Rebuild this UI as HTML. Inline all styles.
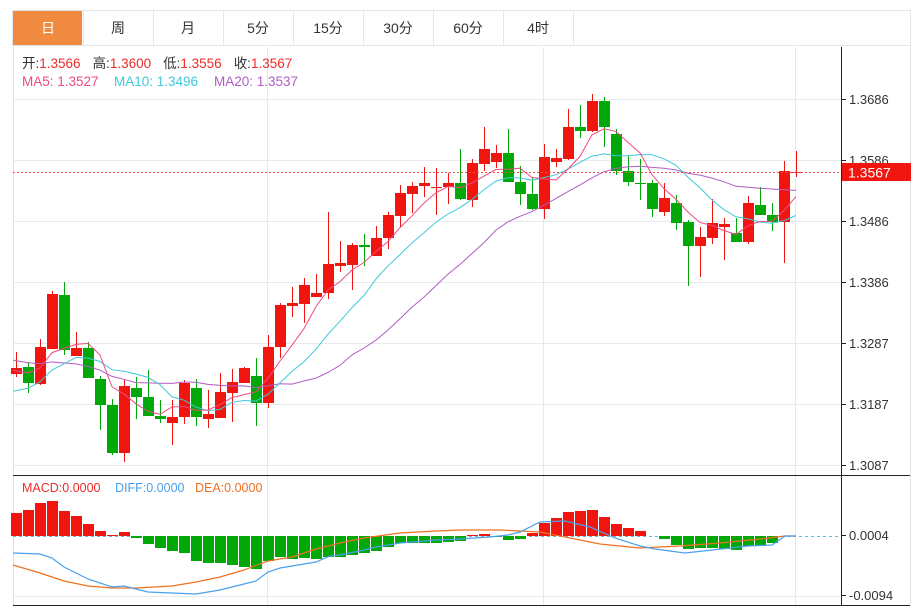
<!DOCTYPE html>
<html><head><meta charset="utf-8"><style>
html,body{margin:0;padding:0;background:#fff;width:921px;height:606px;overflow:hidden}
svg{display:block;font-family:"Liberation Sans","Noto Sans CJK SC",sans-serif}
</style></head><body>
<svg id="s" width="921" height="606" xmlns="http://www.w3.org/2000/svg"></svg>
<script>
var C=[[368,374,352,377,1],[367,383,362,393,0],[347,384,339,385,1],[294,349,291,349,1],[295,350,282,355,0],[348,356,332,356,1],[348,378,342,378,0],[379,405,376,430,0],[405,453,399,455,0],[386,453,380,462,1],[388,397,377,419,0],[397,416,370,416,0],[416,419,400,423,0],[417,423,400,445,1],[383,417,380,424,1],[388,417,379,426,0],[414,419,390,428,1],[392,418,373,418,1],[382,393,369,422,1],[368,383,367,383,1],[376,403,358,426,0],[347,403,335,408,1],[305,347,303,358,1],[303,306,287,317,1],[285,304,278,323,1],[293,297,274,297,1],[264,293,212,299,1],[263,266,241,272,1],[245,265,243,290,1],[245,247,234,266,0],[238,256,226,256,1],[215,238,212,249,1],[193,216,185,227,1],[186,194,182,213,1],[183,186,167,197,1],[187,188,168,215,1],[183,187,173,204,1],[183,199,149,200,0],[163,200,159,207,1],[149,164,127,171,1],[153,162,145,168,1],[153,182,129,182,0],[182,194,166,205,0],[194,209,178,210,0],[157,209,144,219,1],[158,162,149,167,1],[127,159,109,160,1],[127,131,105,138,0],[101,131,94,132,1],[101,127,97,147,0],[134,171,129,175,0],[171,182,155,186,0],[183,184,159,200,0],[183,209,180,217,0],[198,212,183,216,1],[203,223,195,230,0],[222,246,220,286,0],[237,246,227,277,1],[223,238,199,244,1],[224,227,218,260,1],[233,242,218,242,0],[203,242,196,244,1],[205,215,187,215,0],[215,222,203,231,0],[171,222,161,263,1],[172,173,151,177,1]];
var M=[513,510,503,501,511,516,524,531,535,532,538,544,548,551,553,561,563,563,565,567,569,561,557,559,558,559,557,557,555,553,551,547,543,543,543,543,542,541,535,534,537,540,539,533,523,518,512,511,510,517,524,528,531,536,539,545,549,548,548,549,550,546,546,543,536,536];
var DIF=[[13,553],[40,554],[52,558],[64,567],[88,579],[112,587],[124,586],[148,592],[172,593],[196,594],[220,590],[244,584],[256,581],[268,572],[280,568],[316,562],[330,556],[340,555],[364,550],[376,547],[400,543],[436,540],[460,539],[490,537],[508,535],[520,532],[540,522],[565,521],[590,527],[615,538],[640,546],[655,549],[685,553],[712,550],[748,546],[772,545],[785,536],[796,536]];
var DEA=[[13,565],[40,573],[64,581],[88,586],[112,588],[136,588],[172,586],[196,582],[220,577],[244,570],[268,561],[292,557],[316,549],[340,543],[364,538],[400,533],[436,531],[460,530],[500,530],[540,532],[560,536],[600,544],[640,548],[680,546],[720,543],[760,539],[785,536],[796,536]];
var h='';
function L(x1,y1,x2,y2,c,w,d){h+='<line x1="'+x1+'" y1="'+y1+'" x2="'+x2+'" y2="'+y2+'" stroke="'+c+'" stroke-width="'+(w||1)+'"'+(d?' stroke-dasharray="'+d+'"':'')+'/>';}
function T(x,y,t,c,s,a){h+='<text x="'+x+'" y="'+y+'" fill="'+c+'" font-size="'+(s||12)+'"'+(a?' text-anchor="'+a+'"':'')+'>'+t+'</text>';}
h+='<rect x="12.5" y="10.5" width="898" height="35" fill="#fff" stroke="#e3e6ea"/>';
var tabs=['日','周','月','5分','15分','30分','60分','4时'];
for(var i=0;i<8;i++){var x=13+i*70;if(i==0)h+='<rect x="13" y="11" width="69" height="34" fill="#f08a40"/>';else L(x+.5,11,x+.5,45,'#e3e6ea');T(x+35,33,tabs[i],i==0?'#fff':'#333',14,'middle');}
L(x+70.5,11,x+70.5,45,'#e3e6ea');
L(13.5,46,13.5,606,'#dde2e8');L(910.5,46,910.5,606,'#dde2e8');
[99.5,160.5,221.5,282.5,343.5,404.5,465.5].forEach(function(y){L(13,y,841,y,'#e6eaef');});
[267.5,543.5,795.5].forEach(function(x){L(x,47,x,605,'#e6eaef');});
L(13,596.5,841,596.5,'#e6eaef');
L(841.5,47,841.5,605,'#222');
L(13,475.5,910,475.5,'#222');L(13,605.5,910,605.5,'#222');
var lab=['1.3686','1.3586','1.3486','1.3386','1.3287','1.3187','1.3087'];
lab.forEach(function(t,i){var y=99.5+i*61;L(841,y,846,y,'#222');if(i!=1)T(849,y+4.5,t,'#333',13);});
T(849,165,'1.3586','#333',13);
var cl=C.map(function(c){return c[4]?c[0]:c[1];});
var pad=[329,329,329,329,329,329,329,329,329,329,412,412,412,412,412,371,371,371,371];
var all=pad.concat(cl),P=pad.length;
function ma(n){var p='';for(var i=0;i<cl.length;i++){var s=0;for(var k=0;k<n;k++){s+=all[P+i-k];}var x=i==0?13:16+12*i;p+=(i?'L':'M')+x+','+(s/n).toFixed(1);}return p;}
C.forEach(function(c,i){var x=16+12*i,col=c[4]?'#f0150e':'#02a808';L(x+.5,c[2],x+.5,c[3],col);h+='<rect x="'+(x-5)+'" y="'+c[0]+'" width="11" height="'+Math.max(1,c[1]-c[0])+'" fill="'+col+'"/>';});
h+='<path d="'+ma(20)+'" fill="none" stroke="#b05cc6" stroke-width="1"/>';
h+='<path d="'+ma(10)+'" fill="none" stroke="#3fc8dc" stroke-width="1"/>';
h+='<path d="'+ma(5)+'" fill="none" stroke="#ee4a84" stroke-width="1"/>';
L(13,172.5,841,172.5,'#f0504a',1,'2,2');
h+='<rect x="842" y="163" width="69" height="18" fill="#f0150e"/>';T(848,177.5,'1.3567','#fff',14);
h+='<text x="22" y="68" font-size="13.5"><tspan fill="#333">开:</tspan><tspan fill="#f02a2a">1.3566</tspan><tspan dx="12" fill="#333">高:</tspan><tspan fill="#f02a2a">1.3600</tspan><tspan dx="12" fill="#333">低:</tspan><tspan fill="#f02a2a">1.3556</tspan><tspan dx="12" fill="#333">收:</tspan><tspan fill="#f02a2a">1.3567</tspan></text>';
T(22,86,'MA5: 1.3527','#ee4a84',13.5);T(114,86,'MA10: 1.3496','#3fc8dc',13.5);T(214,86,'MA20: 1.3537','#b05cc6',13.5);
T(22,492,'MACD:0.0000','#f02a2a',12.5);T(115,492,'DIFF:0.0000','#4aa0ee',12.5);T(195,492,'DEA:0.0000','#f07020',12.5);
L(13,536.5,841,536.5,'#5bc0de',1,'3,3');
M.forEach(function(v,i){var x=16+12*i;var up=v<536,col=up?'#f0150e':'#02a808';var y=up?v:536,hh=Math.abs(v-536);if(hh>0)h+='<rect x="'+(x-5)+'" y="'+y+'" width="11" height="'+hh+'" fill="'+col+'"/>';});
function pl(a,c){h+='<polyline points="'+a.map(function(p){return p.join(',');}).join(' ')+'" fill="none" stroke="'+c+'" stroke-width="1.2"/>';}
pl(DEA,'#f07020');pl(DIF,'#4aa0ee');
L(841,535.5,846,535.5,'#222');T(849,540,'0.0004','#333',13);
L(841,595.5,846,595.5,'#222');T(849,600,'-0.0094','#333',13);
document.getElementById('s').innerHTML=h;
</script>
</body></html>
